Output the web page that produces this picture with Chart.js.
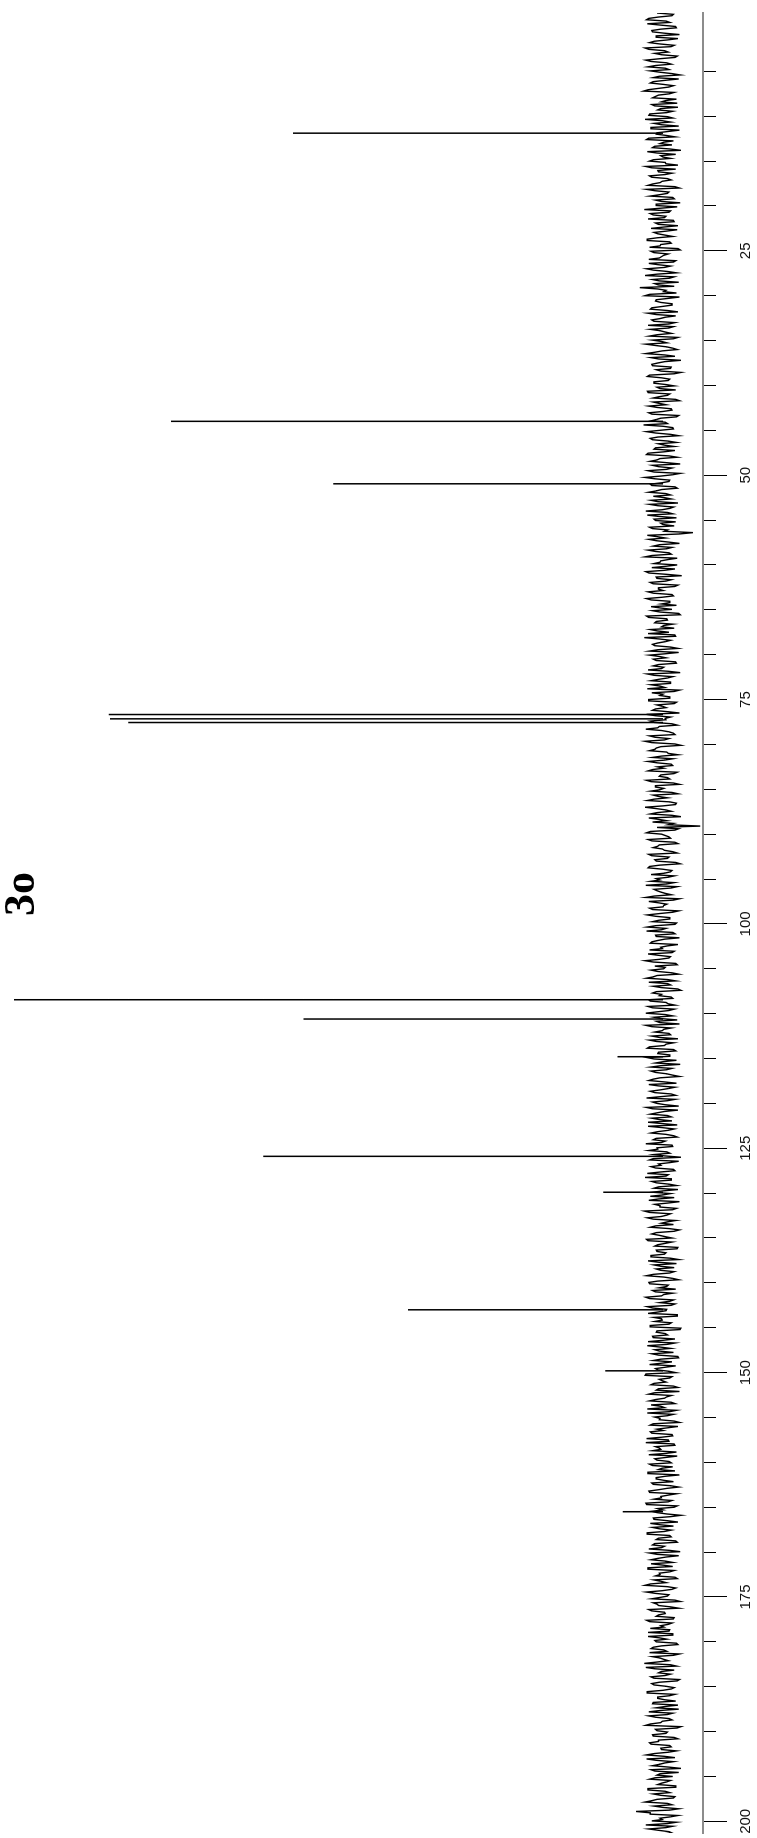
<!DOCTYPE html>
<html>
<head>
<meta charset="utf-8">
<script src="https://cdn.jsdelivr.net/npm/chart.js@4.4.0/dist/chart.umd.min.js"></script>
<style>
  html, body { margin: 0; padding: 0; background: #fff; overflow: hidden; width: 757px; height: 1838px; }
  /* spectrum is drawn the usual way (ppm along the bottom) and then turned a quarter */
  #wrap {
    position: absolute; left: 0; top: 0;
    width: 1838px; height: 757px;
    transform-origin: 0 0;
    transform: translateY(1838px) rotate(-90deg);
  }
  #label {
    position: absolute; left: 922px; top: -2px;
    font: bold 44px 'Liberation Serif', 'Times New Roman', serif;
    line-height: 44px; color: #000;
  }
</style>
</head>
<body>
<div id="wrap">
  <canvas id="chart" width="1838" height="757"></canvas>
  <div id="label">3o</div>
</div>
<script>
// peaks (ppm, relative height)
const peakPpm    = [11.89, 44.0, 50.96, 76.67, 77.15, 77.56, 108.45, 110.6, 114.8, 125.9, 129.9, 143.0, 149.8, 165.5];
const peakHeight = [57.0, 75.8, 50.8, 85.4, 85.2, 82.4, 100, 55.4, 7.0, 61.6, 9.2, 39.3, 8.9, 6.2];

// baseline noise, read every 0.15 ppm from -1.5 ppm: noiseA on the 0.3 grid, noiseB half a step later
const noiseStart = -1.5;
const noiseStep = 0.3;
const noiseA = [
  0.8,-1.2,1.9,-0.4,2.1,-1.7,0.3,1.4,-2.2,0.9,-0.6,1.8,-1.5,2.4,-0.2,1.1,-1.9,0.5,1.6,-1.1,
  2.0,-0.8,0.4,-2.3,1.3,-0.3,1.7,-1.4,0.6,2.6,-0.9,1.0,-1.8,0.2,1.5,-2.0,0.7,-0.5,1.9,-1.3,
  0.1,1.2,-2.1,1.6,-0.7,0.9,-1.6,2.2,-0.1,-1.2,1.4,-2.4,0.8,0.3,-1.0,1.8,-0.4,2.3,-1.7,0.6,
  -0.3,1.5,-1.1,0.4,2.0,-2.2,1.1,-0.6,1.7,-1.5,0.2,0.9,-1.9,2.5,-0.8,1.3,-0.2,-1.4,1.0,-2.0,
  1.6,-0.5,0.7,-1.3,2.1,-0.9,0.3,1.8,-2.3,1.2,-0.1,0.5,-1.7,1.9,-1.0,2.2,-0.6,0.8,-1.5,1.4,
  -2.1,0.6,3.1,-0.4,-1.8,2.4,-0.7,1.0,-1.2,0.1,1.7,-2.0,0.9,-0.3,1.5,-1.6,2.0,-0.8,0.4,-1.1,
  1.8,-1.4,0.2,2.3,-0.5,-1.9,1.1,-0.2,1.6,-2.4,0.7,1.4,-1.0,0.3,-1.5,2.1,-0.9,1.2,-0.4,0.8,
  -1.7,2.0,-0.6,1.3,-2.2,0.5,1.9,-1.1,0.0,1.5,-1.8,0.9,-0.3,2.6,-1.3,0.4,1.0,-2.1,1.7,-0.7,
  0.6,-1.5,1.2,-0.1,2.2,-1.9,0.8,-0.4,1.4,-1.2,2.0,-2.3,0.3,1.1,-0.8,1.7,-1.6,0.2,1.9,-1.0,
  -0.2,1.6,-2.0,0.7,-0.9,2.3,-1.3,0.5,1.2,-1.7,0.0,1.8,-0.6,-4.0,2.1,-0.3,0.9,-2.2,1.3,-0.5,
  1.0,-1.1,2.4,-0.7,0.4,-1.9,1.5,-0.2,1.9,-2.5,0.8,-0.4,1.3,-1.6,0.6,2.0,-1.2,0.1,1.6,-0.9,
  -1.8,0.3,1.4,-2.1,2.2,-0.5,0.9,-1.3,0.2,1.7,-0.8,-1.6,2.5,-1.0,0.7,1.1,-2.0,1.8,-0.3,0.5,
  1.3,-1.7,0.6,-0.1,2.0,-2.3,1.2,-0.6,1.6,-1.0,0.4,2.1,-1.5,0.0,-0.9,1.9,-1.8,0.8,-0.4,1.4,
  -2.2,1.0,-0.3,1.7,-1.2,0.5,2.3,-0.8,-1.6,1.1,-0.2,1.5,-2.4,0.9,1.8,-0.7,0.2,-1.3,2.0,-1.1,
  0.7,1.4,-1.9,0.3,-0.6,2.2,-1.4,1.0,-0.1,1.6,-2.0,0.6,1.2,-0.9,-1.7,2.4,-0.4,0.8,-1.2,1.9,
  -0.5,-1.4,-5.0,-2.1,1.7,0.2,-0.8,2.0,-1.6,0.5,1.3,-0.2,-1.9,1.5,-0.6,0.9,-2.3,1.8,0.1,-1.0,
  1.6,-0.7,0.4,-1.5,2.3,-1.1,0.8,-0.3,1.2,-2.2,1.9,-0.5,0.0,1.4,-1.3,2.1,-0.9,0.6,-1.8,1.0,
  -0.4,2.2,-1.6,0.9,-0.2,1.5,-2.0,0.3,1.8,-1.2,0.6,-0.8,2.4,-1.7,1.1,-0.1,0.7,-2.1,1.3,-0.6,
  1.9,-1.0,0.2,-2.4,1.4,0.5,-1.3,1.7,-0.7,2.0,-1.5,0.8,-0.3,1.2,-1.9,0.4,2.3,-1.1,0.1,-0.8,
  1.5,-2.0,0.9,-0.4,1.8,-1.4,0.6,-0.9,2.1,-1.8,1.0,0.3,-1.2,1.6,-0.5,-2.2,1.3,-0.1,1.9,-1.6,
  0.4,1.1,-1.7,2.2,-0.6,0.8,-2.1,1.4,-0.2,1.7,-1.1,0.5,2.0,-1.9,0.1,-0.7,1.6,-1.4,0.9,-0.3,
  2.3,-1.3,0.7,-0.5,1.2,-2.4,1.8,-0.9,0.3,1.0,-1.6,2.1,-0.4,-1.1,1.5,-0.8,0.6,-2.0,1.4,0.0,
  -1.5,1.9,-0.7,0.4,-1.8,2.5,-1.0,0.2,1.3,-0.6,-1.4,1.7,-2.2,0.9,0.5,-1.2,2.0,-0.3,1.1,-1.9,
  0.8,-0.2,1.6,-2.1,0.6,1.2,-1.5,0.3,-0.9,2.2,-1.3,0.7,1.8,-0.5,-1.7,1.0,-0.1,2.3,-1.4,0.4,
  -1.1,1.4,-0.4,2.0,-1.9,0.2,1.1,-0.8,1.7,-2.3,0.9,-0.6,1.3,0.0,-1.6,2.1,-1.0,0.5,1.5,-2.0,
  0.3,-1.2,1.8,-0.3,0.7,-1.7,2.4,-0.9,0.1,1.2,-1.4,0.6,-2.2,1.9,-0.5,1.0,-1.1,1.6,-0.2,-1.8,
  2.1,-0.6,0.4,-1.5,1.3,-2.0,0.8,1.7,-1.2,0.2,-0.7,2.3,-1.6,0.5,1.4,-0.4,-1.9,1.1,-0.8,1.8,
  -1.3,0.6,2.0,-2.2,0.9,-0.1,1.5,-1.0,-0.5,1.9,-1.8,0.3,1.2,-0.7,2.2,-1.5,0.0,0.8,-2.4,1.3,
  -0.6,1.7,-1.4,0.5,-0.2,2.1,-1.1,0.9,-1.9,1.4,0.2,-0.8,1.8,-2.1,0.7,-0.3,1.6,-1.3,2.0,-0.9,
  0.4,-1.6,1.2,-0.4,2.4,-1.7,0.1,1.0,-0.6,1.5,-2.3,0.8,-1.0,1.9,-0.2,0.6,-1.5,2.2,-1.2,0.3,
  1.7,-0.8,-1.3,2.0,-0.5,0.9,-2.0,1.3,-0.1,1.8,-1.4,0.4,-0.7,2.5,-1.8,1.1,0.2,-1.0,1.6,-2.2,
  0.5,1.2,-1.5,0.0,2.1,-0.9,0.7,-1.7,1.4,-0.3,-2.1,1.9,-0.6,1.0,-1.2,0.3,2.3,-1.9,0.8,-0.4,
  1.3,-2.0,0.6,1.6,-1.1,0.2,-0.7,2.2,-1.6,0.9,-0.2,1.4,-2.4,1.1,0.4,-1.3,1.8,-0.5,0.7,-1.7,
  2.0,-0.9,0.3,-1.4,1.5,-0.6,1.2,-2.1,3.6,1.7,-1.0,0.1,-1.8,2.3,-0.4,0.6,-1.2,1.9,-0.8,0.5
];
const noiseB = [
  -1.4,0.6,2.2,-0.9,0.3,-1.8,1.5,-0.2,0.9,-2.0,1.2,0.4,-1.1,1.9,-0.7,0.2,-1.6,2.3,-0.5,1.0,
  -0.3,1.7,-1.2,0.5,-2.1,1.3,0.0,-0.8,2.0,-1.5,0.6,1.4,-0.4,-1.9,1.1,0.3,-1.3,1.8,-0.6,2.4,
  -1.0,0.2,1.6,-2.2,0.8,-0.5,1.9,-1.4,0.4,1.1,-0.9,2.1,-1.7,0.0,1.3,-0.3,-2.0,1.5,0.7,-1.2,
  1.8,-0.6,0.1,1.4,-1.6,2.2,-0.8,0.5,-1.3,1.0,-2.3,0.9,0.3,-1.0,1.7,-0.4,2.0,-1.5,0.6,-0.1,
  -1.9,1.2,-0.3,0.8,2.1,-1.1,0.4,-2.0,1.6,-0.7,0.2,1.9,-1.4,0.6,-0.2,1.3,-1.8,2.4,-0.9,0.5,
  1.1,-1.5,0.7,-0.1,1.8,-2.2,0.9,0.3,-1.2,1.5,-0.6,2.0,-1.7,0.4,1.2,-0.8,-1.4,1.7,-0.3,0.8,
  -2.0,1.4,-0.5,1.0,-1.3,0.1,2.3,-1.6,0.6,-0.2,1.5,-1.1,0.9,-2.4,1.8,0.2,-0.7,1.2,-1.5,0.4,
  2.1,-0.9,0.5,-1.7,1.3,-0.4,0.8,-1.2,1.9,-2.1,0.3,1.6,-0.6,0.0,-1.4,2.2,-1.0,0.7,1.4,-1.8,
  -0.2,1.0,-1.6,2.0,-0.8,0.4,1.7,-2.3,0.6,-0.5,1.2,-1.3,2.4,-0.9,0.2,1.5,-1.9,0.9,-0.4,1.3,
  -1.1,0.7,1.8,-1.4,0.1,-0.6,2.1,-1.8,1.0,0.3,-1.5,1.4,-0.2,-2.2,0.8,1.9,-0.7,0.5,-1.2,2.0,
  -0.8,1.5,-1.9,0.3,1.2,-0.4,-1.6,2.3,-0.5,0.9,-1.1,1.7,-2.0,0.6,0.0,1.3,-1.4,2.2,-0.9,0.2,
  1.6,-1.2,0.4,-2.3,1.9,-0.6,1.1,-0.1,-1.5,0.8,2.0,-1.7,0.5,-0.3,1.4,-1.0,0.7,-2.1,1.8,-0.4,
  0.9,-1.8,1.3,0.2,-0.7,2.1,-1.3,0.6,-1.0,1.6,-0.2,-2.2,1.5,0.4,-0.9,1.9,-1.5,0.1,1.0,-0.6,
  2.2,-1.0,-0.4,1.2,-1.9,0.7,0.2,-1.4,1.8,-0.8,2.4,-1.6,0.3,1.1,-0.5,-2.0,1.4,-0.2,0.8,-1.3,
  -0.1,2.0,-1.5,0.5,-0.9,1.6,-2.2,1.0,0.4,-1.2,1.3,-0.6,2.1,-1.8,0.0,0.9,-1.1,1.7,-2.4,0.6,
  1.4,-0.7,0.8,-1.6,2.2,-0.3,-1.0,1.5,-2.0,0.7,0.1,-1.3,1.9,-0.8,1.1,-1.7,0.4,2.0,-1.2,-0.2,
  -1.5,0.9,1.6,-0.5,-1.9,1.2,0.3,-1.1,2.3,-1.4,0.6,-0.1,1.8,-2.1,0.5,1.0,-0.9,1.4,-1.6,2.1,
  0.2,-1.3,1.0,-2.2,0.7,1.7,-0.6,0.1,-1.5,2.0,-1.0,0.5,1.3,-1.9,-0.3,1.6,-1.2,0.8,2.2,-1.7,
  -0.6,1.3,-2.0,0.9,0.2,-1.1,1.9,-0.4,-1.6,1.4,-0.8,2.3,-1.3,0.3,0.9,-2.2,1.5,-0.1,1.1,-1.0,
  0.5,1.8,-1.4,-0.2,2.1,-1.7,0.7,-0.9,1.2,0.0,-2.3,1.6,-0.5,1.0,-1.3,0.4,1.9,-1.8,0.6,-0.7,
  1.7,-1.1,0.3,-1.6,1.4,-0.3,2.2,-2.0,0.8,-0.6,1.5,-1.2,0.1,2.0,-1.5,0.7,-0.4,-1.9,1.3,0.2,
  -1.2,0.8,1.9,-0.9,-0.2,1.3,-2.1,0.6,1.6,-1.4,0.4,-0.7,2.4,-1.1,0.9,-1.8,1.2,0.0,-1.0,1.7,
  0.6,-2.2,1.1,0.4,-1.3,1.8,-0.5,2.1,-1.7,0.2,1.0,-0.8,-1.5,1.5,-0.3,2.2,-1.2,0.7,-2.0,0.9,
  -0.4,1.6,-1.0,2.0,-1.8,0.3,0.9,-1.5,1.3,-0.1,-2.1,1.9,-0.7,0.5,1.4,-1.3,0.2,1.8,-0.9,-1.6,
  2.1,-0.5,0.7,-1.9,1.2,0.1,-1.1,1.7,-2.4,0.8,-0.3,1.4,-1.6,2.0,-0.6,0.4,1.1,-1.4,0.6,-2.1,
  1.3,0.2,-1.7,1.0,-0.8,2.3,-1.2,0.5,-0.4,1.6,-2.0,0.9,1.2,-1.1,-0.2,1.8,-1.6,0.3,2.1,-0.9,
  -1.4,1.1,0.5,-2.2,1.7,-0.6,0.0,1.5,-1.3,2.2,-0.8,-1.5,1.0,0.3,-1.8,1.9,-0.4,0.8,-1.1,1.4,
  0.1,-1.6,2.0,-0.3,0.9,-1.4,1.3,-2.1,0.6,1.8,-0.7,0.2,-1.2,2.3,-1.9,0.7,1.5,-0.5,-1.0,1.2,
  -2.0,0.4,1.4,-1.1,2.1,-0.9,0.6,-1.7,1.1,-0.2,1.9,-2.3,0.8,-0.4,1.6,-1.3,0.0,2.0,-1.5,0.5,
  1.0,-1.9,0.3,1.7,-0.6,-1.2,2.2,-0.8,0.4,-1.6,1.3,0.6,-2.1,1.5,-0.3,0.9,-1.4,1.8,-0.7,-0.1,
  -0.9,2.0,-1.3,0.5,1.1,-1.8,0.2,1.6,-0.5,-2.2,1.4,-0.1,0.8,-1.0,2.3,-1.5,0.6,-0.3,1.2,-1.9,
  1.5,-0.4,-1.1,2.1,-1.6,0.7,-0.2,1.3,-2.0,0.9,0.4,-1.3,1.9,-0.8,0.1,1.7,-2.4,1.0,-0.6,1.4,
  -1.5,0.6,1.8,-0.9,0.3,-1.8,1.2,-0.1,2.2,-1.4,0.5,-0.7,1.6,-2.1,0.8,1.1,-1.0,0.2,-1.7,2.0,
  -0.3,1.3,-1.6,0.8,2.4,-1.2,0.0,-0.9,1.7,-2.0,0.4,1.5,-0.6,-1.3,1.9,-0.8,0.7,-2.2,1.1,0.3
];

// axis ticks (every 5 ppm, labelled every 25)
const tickVals = [];
for (let v = 5; v <= 200; v += 5) tickVals.push(v);

const noisePoints = [];
noiseA.forEach((y, i) => {
  noisePoints.push({ x: noiseStart + i * noiseStep, y });
  noisePoints.push({ x: noiseStart + (i + 0.5) * noiseStep, y: noiseB[i] });
});
const stickPoints = [];
peakPpm.forEach((p, i) => {
  stickPoints.push({ x: p, y: 0 }, { x: p, y: peakHeight[i] }, { x: p, y: null });
});

new Chart(document.getElementById('chart'), {
  type: 'line',
  data: {
    datasets: [
      { data: noisePoints, yAxisID: 'yn', borderColor: '#000', borderWidth: 1.4, pointRadius: 0, tension: 0 },
      { data: stickPoints, yAxisID: 'y', borderColor: '#000', borderWidth: 1.5, pointRadius: 0, spanGaps: false }
    ]
  },
  options: {
    responsive: false,
    animation: false,
    events: [],
    layout: { padding: { left: 5, right: 13, top: 0, bottom: -8 } },
    plugins: { legend: { display: false }, tooltip: { enabled: false } },
    scales: {
      x: {
        type: 'linear',
        reverse: true,
        min: -1.5,
        max: 201.3,
        afterBuildTicks: s => { s.ticks = tickVals.map(v => ({ value: v })); },
        border: { display: true, color: '#8c8c8c', width: 2 },
        grid: {
          drawOnChartArea: false,
          color: '#000',
          tickLength: 24,
          tickWidth: 1,
          tickBorderDash: ctx => (ctx.tick && ctx.tick.value % 25 === 0) ? [] : [12, 100]
        },
        ticks: {
          autoSkip: false,
          maxRotation: 0,
          minRotation: 0,
          padding: 10,
          color: '#111',
          font: { family: "'Liberation Sans', Arial, sans-serif", size: 15 },
          callback: v => (v % 25 === 0 ? String(v) : '')
        }
      },
      y: { display: false, min: -6.16, max: 102.16 },
      yn: { display: false, min: -5.36, max: 88.83 }
    }
  }
});
</script>
</body>
</html>
